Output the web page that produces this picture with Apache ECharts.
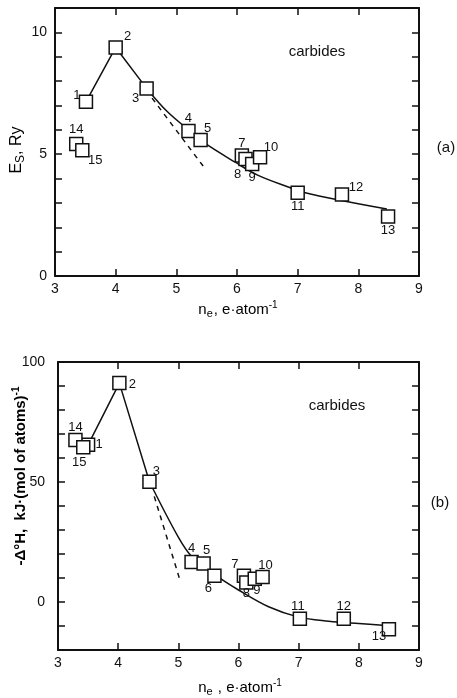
<!DOCTYPE html>
<html><head><meta charset="utf-8">
<script src="https://cdn.jsdelivr.net/npm/echarts@6/dist/echarts.min.js"></script>
<style>html,body{margin:0;padding:0;background:#fff}#c{width:457px;height:698px}</style>
</head><body><div id="c"></div>
<script>
// ---- Panel (a): E_S, Ry vs n_e ----
const ids = ['1','2','3','4','5','7','8','9','10','11','12','13','14','15'];
const aX = [3.51,4.00,4.51,5.20,5.40,6.08,6.14,6.25,6.38,7.00,7.73,8.49,3.35,3.45];
const aY = [7.15,9.38,7.70,5.95,5.58,4.95,4.80,4.60,4.87,3.42,3.35,2.44,5.42,5.16];
const aLineX = [3.51,4.00,4.51];
const aLineY = [7.15,9.38,7.70];
const aFitX = [4.51,4.85,5.20,5.47,5.97,6.34,6.90,7.09,7.70,8.47];
const aFitY = [7.70,6.75,6.00,5.45,4.67,4.14,3.60,3.44,3.11,2.75];
const aDashX = [4.60,5.47];
const aDashY = [7.30,4.42];

// ---- Panel (b): -ΔH vs n_e ----
const idsB = ['1','2','3','4','5','6','7','8','9','10','11','12','13','14','15'];
const bX = [3.50,4.02,4.52,5.22,5.42,5.60,6.09,6.13,6.27,6.40,7.02,7.75,8.50,3.29,3.42];
const bY = [65.5,91.2,50.1,16.7,16.0,10.9,10.9,8.1,9.7,10.4,-7.0,-7.0,-11.4,67.5,64.5];
const bLineX = [3.50,4.02,4.52];
const bLineY = [65.5,91.2,50.1];
const bFitX = [4.52,5.00,5.22,5.60,6.00,6.50,7.00,7.50,8.00,8.45];
const bFitY = [50.1,27.0,19.0,11.5,5.0,-2.0,-6.3,-8.0,-9.0,-9.8];
const bDashX = [4.60,5.02];
const bDashY = [44.0,9.7];

const xTicks = [3,4,5,6,7,8,9];

// label offsets (style only)
const aOff = [[-9,-6],[12,-11],[-11,10],[0,-13],[7,-12],[0,-12],[-8,15],[0,13],[11,-10],[0,14],[14,-7],[0,14],[0,-15],[13,10]];
const bOff = [[11,0],[13,1],[7,-10],[0,-13],[3,-13],[-6,13],[-9,-11],[0,11],[2,12],[3,-12],[-2,-12],[0,-12],[-10,7],[0,-13],[-4,15]];

const FONT = 'Liberation Sans';
const zip = (xs, ys) => xs.map((x, i) => [x, ys[i]]);

function pts(xs, ys, names, offs) {
  return xs.map((x, i) => ({
    value: [x, ys[i]], name: names[i],
    label: {show: true, formatter: names[i], position: 'inside', offset: offs[i],
            fontSize: 13, fontFamily: FONT, color: '#111'}
  }));
}

const tickStyle = {inside: true, length: 7, lineStyle: {color: '#111', width: 1.5}};
const lineStyle = {color: '#111', width: 2};
function xAx(grid, pos, show) {
  return {type: 'value', gridIndex: grid, position: pos, min: 3, max: 9, interval: 1,
    axisLine: {show: true, onZero: false, lineStyle},
    axisTick: tickStyle, splitLine: {show: false},
    axisLabel: {show: show, margin: 6, fontSize: 14, fontFamily: FONT, color: '#111'}};
}
function yAx(grid, pos, show, min, max, interval, labelEvery, margin) {
  return {type: 'value', gridIndex: grid, position: pos, min, max, interval,
    axisLine: {show: true, onZero: false, lineStyle},
    axisTick: tickStyle, splitLine: {show: false},
    axisLabel: {show: show, margin: margin, fontSize: 14, fontFamily: FONT, color: '#111',
      formatter: v => (v % labelEvery === 0 && v <= (max - (max % labelEvery === 0 ? 0 : max % labelEvery))) ? String(v) : ''}};
}

const sq = {symbol: 'rect', symbolSize: 13,
  itemStyle: {color: '#fff', borderColor: '#111', borderWidth: 1.5, opacity: 1},
  emphasis: {disabled: true}};

const chart = echarts.init(document.getElementById('c'));
chart.setOption({
  animation: false,
  backgroundColor: '#fff',
  grid: [
    {left: 55, top: 8, width: 364, height: 268},
    {left: 58, top: 362, width: 361, height: 288}
  ],
  xAxis: [xAx(0, 'bottom', true), xAx(0, 'top', false), xAx(1, 'bottom', true), xAx(1, 'top', false)],
  yAxis: [
    yAx(0, 'left', true, 0, 11, 1, 5, 8), yAx(0, 'right', false, 0, 11, 1, 5, 8),
    yAx(1, 'left', true, -20, 100, 10, 50, 13), yAx(1, 'right', false, -20, 100, 10, 50, 13)
  ],
  series: [
    {type: 'line', xAxisIndex: 0, yAxisIndex: 0, data: zip(aLineX, aLineY), symbol: 'none',
      lineStyle: {color: '#111', width: 1.5}, z: 2},
    {type: 'line', xAxisIndex: 0, yAxisIndex: 0, data: zip(aFitX, aFitY), symbol: 'none', smooth: 0.35,
      lineStyle: {color: '#111', width: 1.5}, z: 2},
    {type: 'line', xAxisIndex: 0, yAxisIndex: 0, data: zip(aDashX, aDashY), symbol: 'none',
      lineStyle: {color: '#111', width: 1.5, type: [5, 5]}, z: 2},
    Object.assign({type: 'scatter', xAxisIndex: 0, yAxisIndex: 0, data: pts(aX, aY, ids, aOff), z: 5}, sq),

    {type: 'line', xAxisIndex: 2, yAxisIndex: 2, data: zip(bLineX, bLineY), symbol: 'none',
      lineStyle: {color: '#111', width: 1.5}, z: 2},
    {type: 'line', xAxisIndex: 2, yAxisIndex: 2, data: zip(bFitX, bFitY), symbol: 'none', smooth: 0.35,
      lineStyle: {color: '#111', width: 1.5}, z: 2},
    {type: 'line', xAxisIndex: 2, yAxisIndex: 2, data: zip(bDashX, bDashY), symbol: 'none',
      lineStyle: {color: '#111', width: 1.5, type: [5, 5]}, z: 2},
    Object.assign({type: 'scatter', xAxisIndex: 2, yAxisIndex: 2, data: pts(bX, bY, idsB, bOff), z: 5}, sq)
  ],
  graphic: [
    {type: 'text', x: 317, y: 52, style: {text: 'carbides', font: '15px ' + FONT, fill: '#111', align: 'center', verticalAlign: 'middle'}},
    {type: 'text', x: 337, y: 406, style: {text: 'carbides', font: '15px ' + FONT, fill: '#111', align: 'center', verticalAlign: 'middle'}},
    {type: 'text', x: 446, y: 148, style: {text: '(a)', font: '15px ' + FONT, fill: '#111', align: 'center', verticalAlign: 'middle'}},
    {type: 'text', x: 440, y: 503, style: {text: '(b)', font: '15px ' + FONT, fill: '#111', align: 'center', verticalAlign: 'middle'}},
    {type: 'text', x: 238, y: 310, style: {
      text: '{n|n}{s|e}{n|, e·atom}{p|-1}', align: 'center', verticalAlign: 'middle',
      rich: {n: {fontSize: 15, fontFamily: FONT, color: '#111', lineHeight: 22},
             s: {fontSize: 11, fontFamily: FONT, color: '#111', lineHeight: 22, padding: [8, 1, 0, 0]},
             p: {fontSize: 10, fontFamily: FONT, color: '#111', lineHeight: 22, padding: [0, 0, 10, 0]}}}},
    {type: 'text', x: 240, y: 688, style: {
      text: '{n|n}{s|e}{n| , e·atom}{p|-1}', align: 'center', verticalAlign: 'middle',
      rich: {n: {fontSize: 15, fontFamily: FONT, color: '#111', lineHeight: 22},
             s: {fontSize: 11, fontFamily: FONT, color: '#111', lineHeight: 22, padding: [8, 1, 0, 0]},
             p: {fontSize: 10, fontFamily: FONT, color: '#111', lineHeight: 22, padding: [0, 0, 10, 0]}}}},
    {type: 'text', x: 17, y: 150, rotation: Math.PI / 2, style: {
      text: '{n|E}{s|S}{n|, Ry}', align: 'center', verticalAlign: 'middle',
      rich: {n: {fontSize: 16, fontFamily: FONT, color: '#111', lineHeight: 22},
             s: {fontSize: 12, fontFamily: FONT, color: '#111', lineHeight: 22, padding: [8, 0, 0, 0]}}}},
    {type: 'text', x: 21, y: 476, rotation: Math.PI / 2, style: {
      text: '{n|-Δ°H,  kJ·(mol of atoms)}{p|-1}', align: 'center', verticalAlign: 'middle',
      rich: {n: {fontSize: 15, fontFamily: FONT, fontWeight: 'bold', color: '#111', lineHeight: 22},
             p: {fontSize: 10, fontFamily: FONT, fontWeight: 'bold', color: '#111', lineHeight: 22, padding: [0, 0, 10, 0]}}}}
  ]
});
</script></body></html>
